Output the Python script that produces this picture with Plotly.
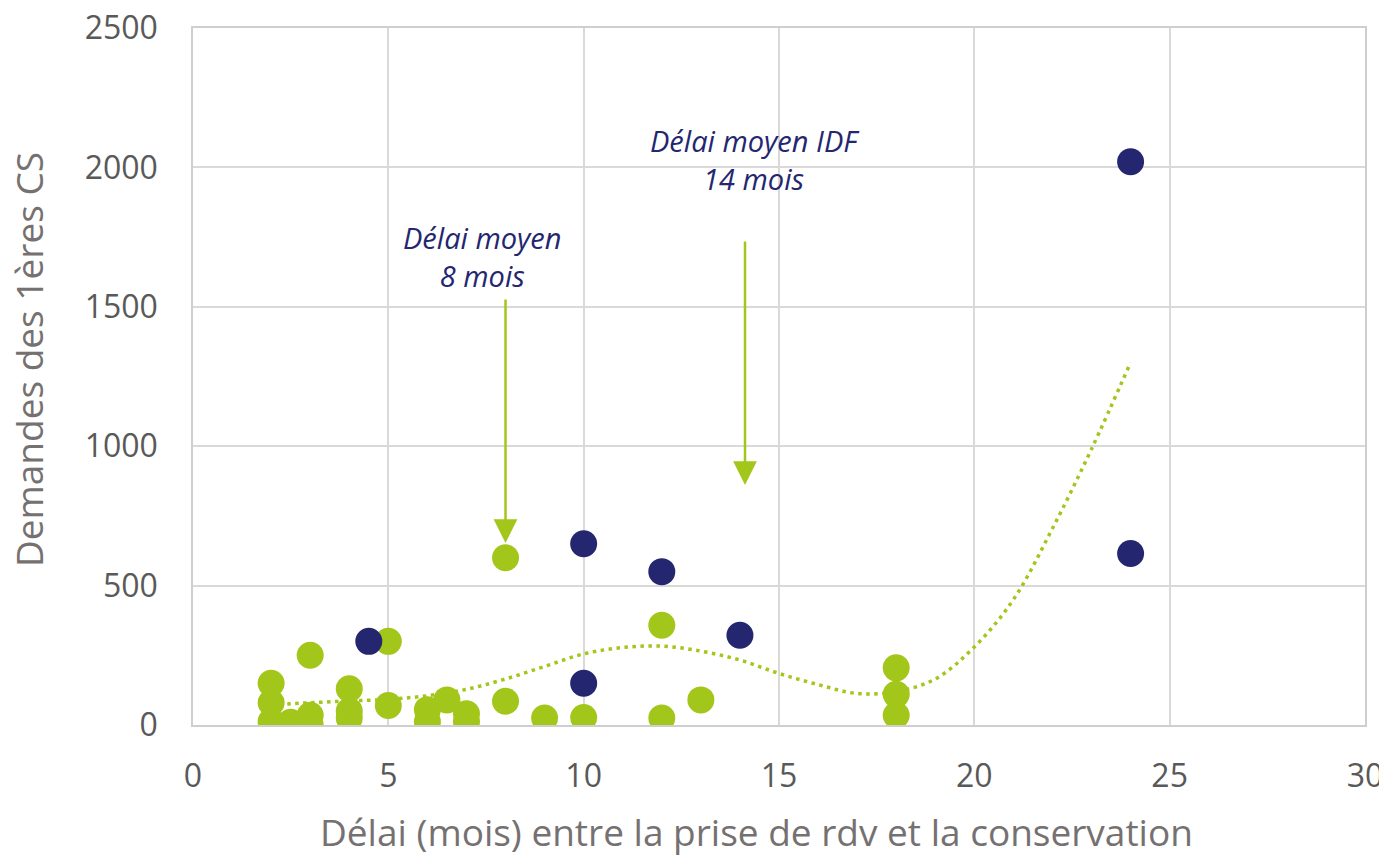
import plotly.graph_objects as go

# Délai (mois) / demandes des 1ères CS
green_x = [2, 2, 2, 2.5, 3, 3, 3, 4, 4, 4, 5, 5, 6, 6, 6.5, 7, 7, 8, 8, 9, 10, 12, 12, 13, 18, 18, 18]
green_y = [150, 80, 12, 10, 250, 35, 0, 130, 50, 25, 300, 70, 55, 12, 90, 40, 12, 600, 85, 25, 27, 358, 25, 90, 205, 110, 35]

idf_x = [4.5, 10, 10, 12, 14, 24, 24]
idf_y = [300, 650, 150, 550, 322, 615, 2020]

# courbe de tendance
trend_x = [2, 3, 4, 5, 6, 7, 8, 9, 10, 11, 12, 13, 14, 15, 16, 17, 18, 19, 20, 21, 22, 23, 24]
trend_y = [72, 80, 86, 92, 105, 128, 165, 210, 255, 278, 283, 265, 233, 185, 145, 113, 120, 165, 280, 450, 705, 990, 1300]

x_ticks = [0, 5, 10, 15, 20, 25, 30]
y_ticks = [0, 500, 1000, 1500, 2000, 2500]

GREEN = "#A3C61A"
NAVY = "#24276F"
TICK = "#595959"
TITLE = "#767171"
FONT = "Open Sans"

fig = go.Figure()
fig.add_trace(go.Scatter(
    x=trend_x, y=trend_y, mode="lines", line_shape="spline",
    line=dict(color=GREEN, width=3.5, dash="3.5px,4.5px"), hoverinfo="skip",
))
fig.add_trace(go.Scatter(
    x=green_x, y=green_y, mode="markers",
    marker=dict(color=GREEN, size=27, line=dict(width=0)),
))
fig.add_trace(go.Scatter(
    x=idf_x, y=idf_y, mode="markers",
    marker=dict(color=NAVY, size=27, line=dict(width=0)),
))

# flèches
for x0, y_tail, y_head in [(8, 1532, 653), (14.13, 1740, 861)]:
    fig.add_annotation(
        x=x0, y=y_head, ax=x0, ay=y_tail, axref="x", ayref="y",
        text="", showarrow=True, arrowhead=2, arrowsize=1.9,
        arrowwidth=2.5, arrowcolor=GREEN,
    )

labels = [
    (7.4, 1679, "Délai moyen<br>8 mois"),
    (14.38, 2027, "Délai moyen IDF<br>14 mois"),
]
for lx, ly, txt in labels:
    fig.add_annotation(
        x=lx, y=ly, text=txt, showarrow=False, align="center",
        font=dict(family=FONT, size=29, color=NAVY, style="italic"),
    )

# axis titles as annotations, so they can sit where Excel put them
fig.add_annotation(
    xref="paper", yref="paper", x=0.4804, y=-0.1534,
    xanchor="center", yanchor="middle", showarrow=False,
    text="Délai (mois) entre la prise de rdv et la conservation",
    font=dict(family=FONT, size=37, color=TITLE),
)
fig.add_annotation(
    xref="paper", yref="paper", x=-0.1405, y=0.524,
    xanchor="center", yanchor="middle", showarrow=False,
    text="Demandes des 1ères CS", textangle=-90,
    font=dict(family=FONT, size=37, color=TITLE),
)

# the page body adds an 8px margin, so the figure is shrunk to fit
fig.update_layout(
    width=1379, height=848,
    margin=dict(l=185, r=22, t=20, b=131),
    paper_bgcolor="white", plot_bgcolor="white",
    showlegend=False,
    font=dict(family=FONT, color=TICK),
)
fig.update_xaxes(
    range=[0, 30], tickmode="array", tickvals=x_ticks, automargin=False,
    showgrid=True, gridcolor="#D9D9D9", gridwidth=1.5,
    showline=True, linecolor="#CFCFCF", linewidth=1.5, mirror=True,
    zeroline=False, ticks="", ticklabelstandoff=22, ticklabeloverflow="allow",
    tickfont=dict(size=32, color=TICK),
)
fig.update_yaxes(
    range=[0, 2500], tickmode="array", tickvals=y_ticks, automargin=False,
    showgrid=True, gridcolor="#D9D9D9", gridwidth=1.5,
    showline=True, linecolor="#CFCFCF", linewidth=1.5, mirror=True,
    zeroline=False, ticks="", ticklabelstandoff=27, ticklabeloverflow="allow",
    tickfont=dict(size=32, color=TICK),
)

fig.write_html("out.html")
